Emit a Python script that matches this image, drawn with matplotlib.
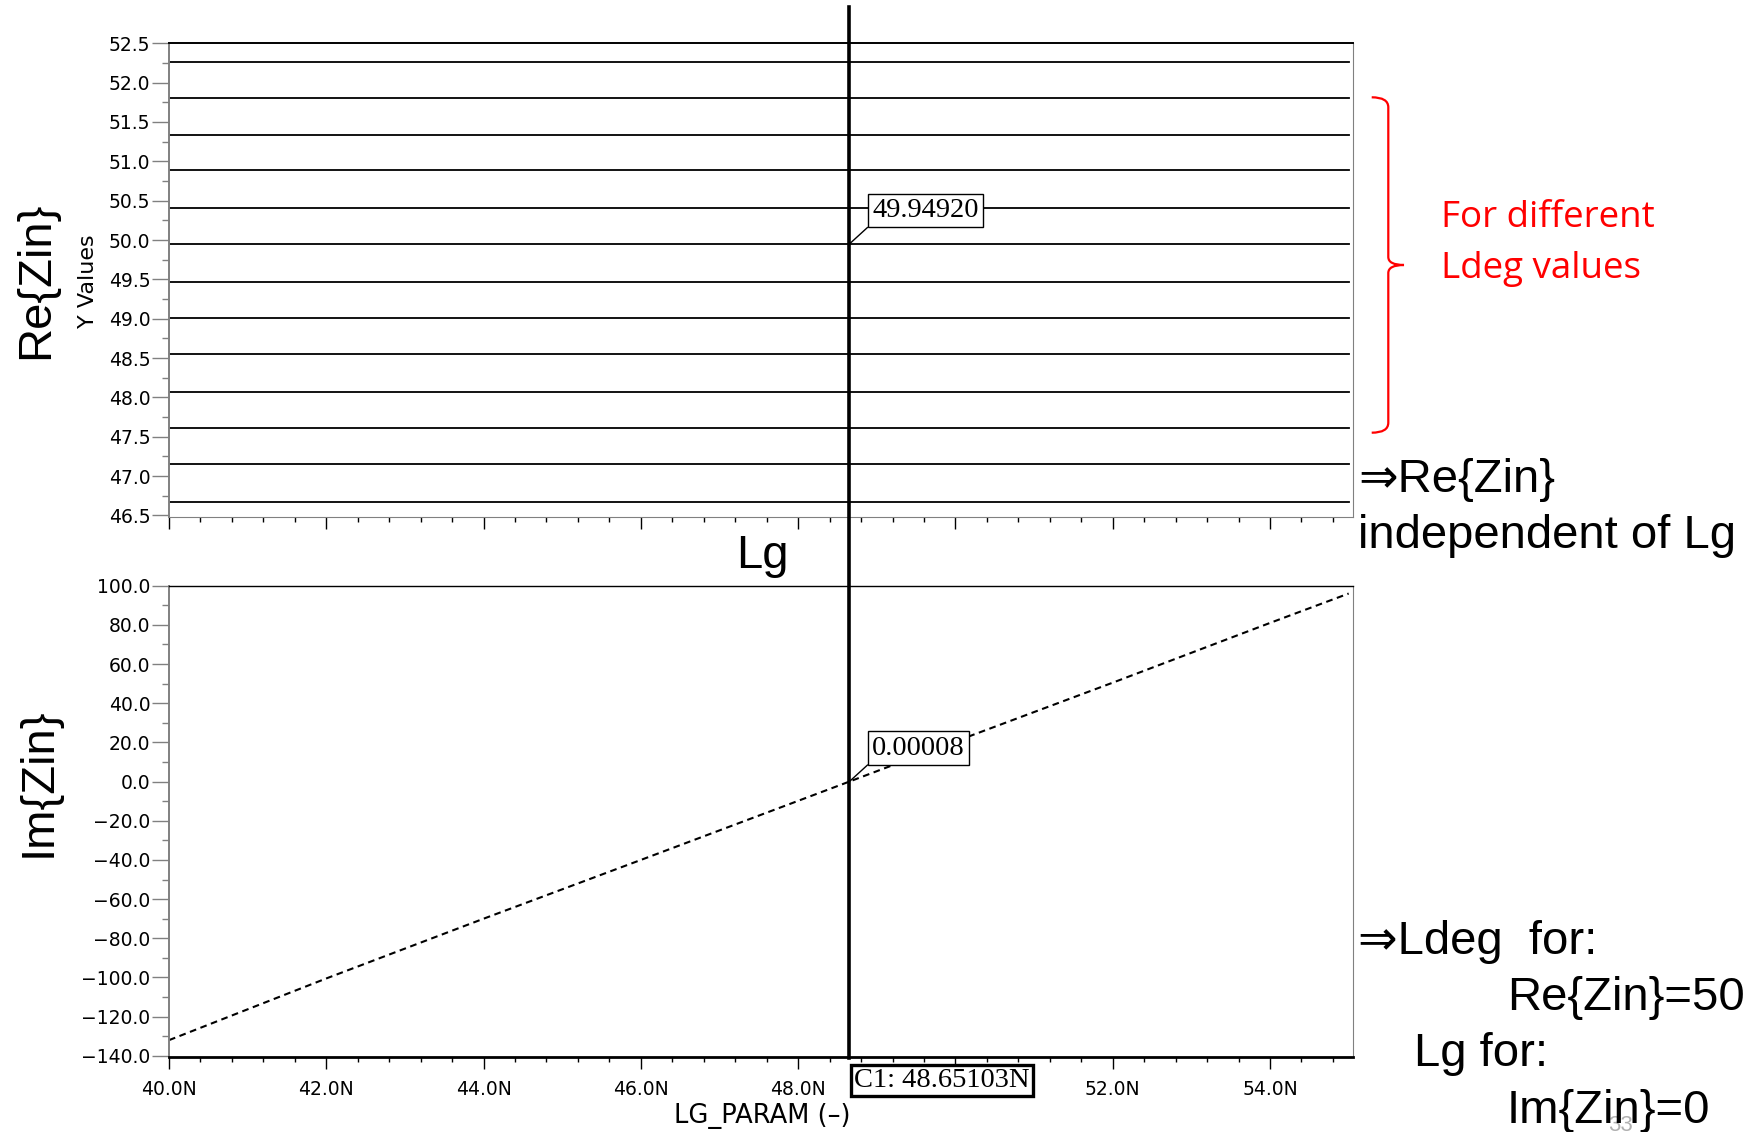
import matplotlib
matplotlib.use("Agg")
import matplotlib.pyplot as plt
import matplotlib.transforms as mtransforms
from matplotlib.lines import Line2D
from matplotlib.patches import PathPatch
from matplotlib.path import Path
from matplotlib.ticker import MultipleLocator, FixedLocator

W, H = 1764, 1132

# --- data ---
lg_sweep = [40.0, 55.0]
re_zin_levels = [52.26, 51.81, 51.33, 50.89, 50.41, 49.9492, 49.47,
                 49.01, 48.55, 48.07, 47.61, 47.15, 46.67]
lg_points = [40.0, 42.0, 44.0, 46.0, 48.651, 50.0, 52.0, 54.0, 55.0]
im_zin = [-132.0, -100.5, -70.0, -40.0, 0.0, 20.5, 50.5, 81.0, 96.0]
cursor_lg = 48.65103
re_marker = 49.94920
im_marker = 0.00008
x_ticks = [40, 42, 44, 46, 48, 50, 52, 54]
x_tick_labels = ["40.0N", "42.0N", "44.0N", "46.0N", "48.0N", "50.0N", "52.0N", "54.0N"]

ARIAL = ["Liberation Sans", "DejaVu Sans"]
CALIBRI = ["Open Sans", "DejaVu Sans"]
MARKER_FONT = ["Liberation Serif", "DejaVu Serif"]
GRAY = "#808080"


def fx(px):
    return px / W


def fy(py):
    return 1 - py / H


def axes_rect(left, top, right, bottom):
    return [fx(left), fy(bottom), (right - left) / W, (bottom - top) / H]


def style_axes(ax):
    ax.set_facecolor("white")
    ax.spines["left"].set_color(GRAY)
    ax.spines["left"].set_linewidth(1.4)
    ax.spines["right"].set_color(GRAY)
    ax.spines["right"].set_linewidth(0.8)
    ax.spines["top"].set_color("black")
    ax.spines["top"].set_linewidth(1.4)
    ax.tick_params(axis="y", which="major", direction="out", length=12, width=1.0,
                   color=GRAY, pad=1.5, labelsize=13.5)
    ax.tick_params(axis="y", which="minor", direction="out", length=5, width=1.0, color=GRAY)
    ax.tick_params(axis="x", which="major", direction="out", length=8.5, width=1.0,
                   color="black", pad=8, labelsize=13.5)
    ax.tick_params(axis="x", which="minor", direction="out", length=3.5, width=1.0, color="black")
    ax.set_xlim(40.0, 55.06)
    ax.xaxis.set_major_locator(FixedLocator(x_ticks))
    ax.xaxis.set_minor_locator(MultipleLocator(0.4))


fig = plt.figure(figsize=(W / 100, H / 100), dpi=100)
fig.patch.set_facecolor("white")

ax_re = fig.add_axes(axes_rect(169, 43.3, 1353.4, 517))
ax_im = fig.add_axes(axes_rect(169, 585.7, 1353.4, 1057))

# Re{Zin}: one flat line per Ldeg value
style_axes(ax_re)
for level in re_zin_levels:
    ax_re.plot(lg_sweep, [level, level], color="black", linewidth=1.3)
ax_re.set_ylim(46.48, 52.5)
ax_re.yaxis.set_major_locator(MultipleLocator(0.5))
ax_re.yaxis.set_minor_locator(MultipleLocator(0.25))
ax_re.yaxis.set_major_formatter(lambda v, p: f"{v:.1f}")
ax_re.set_xticklabels([])
ax_re.spines["bottom"].set_color(GRAY)
ax_re.spines["bottom"].set_linewidth(0.8)

# Im{Zin}: dashed curve
style_axes(ax_im)
ax_im.plot(lg_points, im_zin, color="black", linewidth=1.5, linestyle=(0, (3.2, 2.2)))
ax_im.set_ylim(-140.6, 100)
ax_im.yaxis.set_major_locator(MultipleLocator(20))
ax_im.yaxis.set_minor_locator(MultipleLocator(10))
ax_im.yaxis.set_major_formatter(lambda v, p: f"{v:.1f}".replace("-", "\u2212"))
ax_im.set_xticklabels(x_tick_labels)
ax_im.spines["bottom"].set_color("black")
ax_im.spines["bottom"].set_linewidth(2.0)
ax_im.spines["top"].set_linewidth(1.0)

for lab in ax_re.get_yticklabels() + ax_im.get_yticklabels() + ax_im.get_xticklabels():
    lab.set_family("DejaVu Sans")

# cursor line running through both panels
cursor_tf = mtransforms.blended_transform_factory(ax_im.transData, fig.transFigure)
fig.add_artist(Line2D([cursor_lg, cursor_lg], [fy(7), fy(1058)], transform=cursor_tf,
                      color="black", linewidth=2.6, zorder=5))

# marker annotations
box_kw = dict(boxstyle="square,pad=0.15", facecolor="white", edgecolor="black", linewidth=1.0)
arrow_kw = dict(arrowstyle="-", color="black", linewidth=1.0, shrinkA=0, shrinkB=0, relpos=(0, 0))
ax_re.annotate(f"{re_marker:.5f}", xy=(cursor_lg, re_marker), xytext=(23, 21),
               textcoords="offset pixels", ha="left", va="bottom", fontsize=20.5,
               family=MARKER_FONT, bbox=box_kw, arrowprops=arrow_kw, zorder=6)
ax_im.annotate(f"{im_marker:.5f}", xy=(cursor_lg, im_marker), xytext=(23, 21),
               textcoords="offset pixels", ha="left", va="bottom", fontsize=20.5,
               family=MARKER_FONT, bbox=box_kw, arrowprops=arrow_kw, zorder=6)

c1_tf = mtransforms.offset_copy(cursor_tf, fig=fig, x=5, y=0, units="dots")
fig.text(cursor_lg, fy(1087), f"C1: {cursor_lg:.5f}N", transform=c1_tf, ha="left",
         va="baseline", fontsize=20.5, family=MARKER_FONT, zorder=7,
         bbox=dict(boxstyle="square,pad=0.12", facecolor="white", edgecolor="black", linewidth=2.4))

# axis captions
fig.text(fx(88), fy(281), "Y Values", rotation=90, ha="center", va="center",
         fontsize=16, family="DejaVu Sans")
fig.text(fx(762), fy(1123), "LG_PARAM (\u2013)", ha="center", va="baseline",
         fontsize=18.5, family="DejaVu Sans")

# slide annotations
fig.text(fx(36), fy(280), "Re{Zin}", rotation=90, ha="center", va="center",
         fontsize=34, family=ARIAL)
fig.text(fx(39), fy(782), "Im{Zin}", rotation=90, ha="center", va="center",
         fontsize=34, family=ARIAL)
fig.text(fx(762), fy(568), "Lg", ha="center", va="baseline", fontsize=34, family=ARIAL)

fig.text(fx(1358), fy(492), "\u21d2Re{Zin}", ha="left", va="baseline", fontsize=34, family=ARIAL)
fig.text(fx(1358), fy(548), "independent of Lg", ha="left", va="baseline", fontsize=34, family=ARIAL)
fig.text(fx(1358), fy(954), "\u21d2Ldeg  for:", ha="left", va="baseline", fontsize=34, family=ARIAL)
fig.text(fx(1507), fy(1010), "Re{Zin}=50", ha="left", va="baseline", fontsize=34, family=ARIAL)
fig.text(fx(1414), fy(1066), "Lg for:", ha="left", va="baseline", fontsize=34, family=ARIAL)
fig.text(fx(1620), fy(1131), "33", ha="center", va="baseline", fontsize=16, color="#b0b0b0",
         family=ARIAL, zorder=1)
fig.text(fx(1507), fy(1123), "Im{Zin}=0", ha="left", va="baseline", fontsize=34, family=ARIAL,
         zorder=3)

fig.text(fx(1441), fy(227), "For different", ha="left", va="baseline", fontsize=26.5,
         color="red", family=CALIBRI)
fig.text(fx(1441), fy(278), "Ldeg values", ha="left", va="baseline", fontsize=26.5,
         color="red", family=CALIBRI)

# red curly bracket
xl, xv, xn = 1371.7, 1388.3, 1404.0
yt, ym, yb = 97.3, 265.0, 432.7
bracket_verts = [
    (xl, yt), (xv, yt), (xv, yt + 10),
    (xv, ym - 8), (xv, ym), (xn, ym),
    (xv, ym), (xv, ym + 8),
    (xv, yb - 10), (xv, yb), (xl, yb),
]
bracket_codes = [Path.MOVETO, Path.CURVE3, Path.CURVE3,
                 Path.LINETO, Path.CURVE3, Path.CURVE3,
                 Path.CURVE3, Path.CURVE3,
                 Path.LINETO, Path.CURVE3, Path.CURVE3]
bracket_path = Path([(fx(x), fy(y)) for x, y in bracket_verts], bracket_codes)
fig.add_artist(PathPatch(bracket_path, transform=fig.transFigure,
                         facecolor="none", edgecolor="red", linewidth=1.6))

fig.savefig("out.png", dpi=100)
